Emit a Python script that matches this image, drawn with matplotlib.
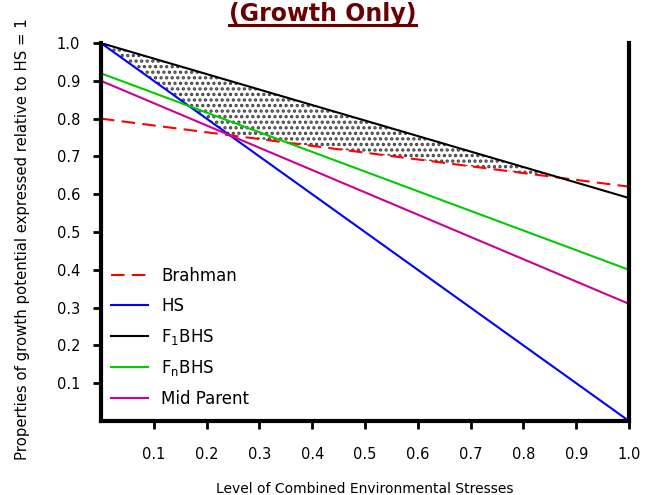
import numpy as np
import matplotlib
matplotlib.use("Agg")
import matplotlib.pyplot as plt
from matplotlib.lines import Line2D

# Data: values at stress level 0 and 1
x = [0.0, 1.0]
brahman = [0.80, 0.62]
hs = [1.00, 0.00]
f1bhs = [1.00, 0.59]
fnbhs = [0.92, 0.40]
mid_parent = [0.90, 0.31]

xticks = [0.1, 0.2, 0.3, 0.4, 0.5, 0.6, 0.7, 0.8, 0.9, 1.0]
yticks = [0.1, 0.2, 0.3, 0.4, 0.5, 0.6, 0.7, 0.8, 0.9, 1.0]

plt.rcParams['font.family'] = ['DejaVu Sans']
plt.rcParams['hatch.linewidth'] = 1.6

fig = plt.figure(figsize=(6.49, 4.95), dpi=100)
ax = fig.add_axes([0.1556, 0.1495, 0.9692 - 0.1556, 0.913 - 0.1495])

# shaded region between F1BHS and the better parent
xs = np.linspace(0, 1, 401)
f1 = np.interp(xs, x, f1bhs)
best = np.maximum(np.interp(xs, x, hs), np.interp(xs, x, brahman))
ax.fill_between(xs, best, f1, where=f1 >= best, facecolor='white',
                edgecolor='#444444', hatch='...', linewidth=0, interpolate=True)

ax.plot(x, brahman, color='#ff0000', lw=1.5, ls=(0, (6.5, 3.5)), label='Brahman')
ax.plot(x, hs, color='#0000ff', lw=1.5, label='HS')
ax.plot(x, f1bhs, color='black', lw=1.5, label='F$_\\mathregular{1}$BHS')
ax.plot(x, fnbhs, color='#00cc00', lw=1.5, label='F$_\\mathregular{n}$BHS')
ax.plot(x, mid_parent, color='#cc0099', lw=1.5, label='Mid Parent')

ax.set_xlim(0, 1.0)
ax.set_ylim(0, 1.0)
ax.set_xticks(xticks)
ax.set_yticks(yticks)
ax.set_xticklabels([f"{t:.1f}" for t in xticks])
ax.set_yticklabels([f"{t:.1f}" for t in yticks])
ax.tick_params(axis='both', direction='out', length=6, width=2, labelsize=10.5, color='black')
ax.tick_params(axis='x', pad=13)
ax.tick_params(axis='y', pad=9)

for s in ['left', 'bottom', 'right']:
    ax.spines[s].set_linewidth(3)
ax.spines['top'].set_visible(False)

ax.set_xlabel('Level of Combined Environmental Stresses', fontsize=10, labelpad=14)
ax.set_ylabel('Properties of growth potential expressed relative to HS = 1',
              fontsize=10.7)
ax.yaxis.set_label_coords(-0.1345, 0.481)

leg = ax.legend(loc='lower left', frameon=False, fontsize=12, handlelength=2.2,
                handletextpad=0.8, labelspacing=0.70,
                bbox_to_anchor=(0.0, 0.008), borderaxespad=0.2)

# Title with underline
t = fig.text(322.5 / 649, 1 - 21 / 495, '(Growth Only)', ha='center', va='baseline',
             fontsize=17, fontweight='bold', color='#6b0000')
fig.canvas.draw()
bb = t.get_window_extent(renderer=fig.canvas.get_renderer())
x0, x1 = fig.transFigure.inverted().transform([[bb.x0, 0], [bb.x1, 0]])[:, 0]
fig.add_artist(Line2D([x0, x1], [1 - 24.5 / 495, 1 - 24.5 / 495],
                      color='#6b0000', lw=2.2, transform=fig.transFigure))

fig.savefig('out.png', dpi=100)
